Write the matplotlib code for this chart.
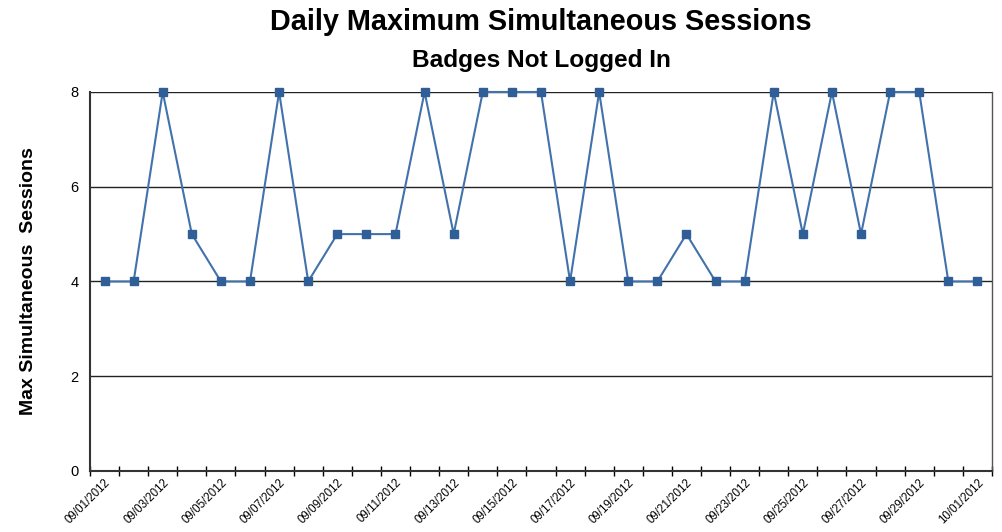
import numpy as np
import matplotlib
matplotlib.use("Agg")
import matplotlib.pyplot as plt

plt.rcParams['font.family'] = ['Liberation Sans', 'DejaVu Sans']

days = ["09/%02d/2012" % d for d in range(1, 31)] + ["10/01/2012"]
sessions = [4, 4, 8, 5, 4, 4, 8, 4, 5, 5, 5, 8, 5, 8, 8, 8, 4, 8, 4, 4,
            5, 4, 4, 8, 5, 8, 5, 8, 8, 4, 4]
yticks = [0, 2, 4, 6, 8]

fig = plt.figure(figsize=(10.03, 5.32), dpi=100)
ax = fig.add_axes([0.0897, 0.1147, 0.8993, 0.7124])

x = np.arange(len(days))
ax.plot(x, sessions, color="#4272ab", lw=1.5, marker="s", markersize=5.5,
        markerfacecolor="#2f5f96", markeredgecolor="#2f5f96", zorder=4,
        clip_on=False)

ax.set_xlim(-0.5, len(days) - 0.5)
ax.set_ylim(0, 8)
ax.set_yticks(yticks)
ax.set_yticklabels([str(v) for v in yticks], fontsize=10.5)
for v in yticks[1:]:
    ax.axhline(v, color="#222222", lw=1.0, zorder=1)

# tick marks on category boundaries, labels on every other category
ax.set_xticks(np.arange(len(days) + 1) - 0.5)
ax.set_xticklabels([])
ax.set_xticks(x[::2], minor=True)
ax.set_xticklabels(days[::2], minor=True, rotation=45, ha="right",
                   va="top", fontsize=8.3, rotation_mode="anchor")
ax.tick_params(axis="x", which="major", direction="inout", length=7, width=1)
ax.tick_params(axis="x", which="minor", length=0, pad=4)
ax.tick_params(axis="y", length=0, pad=8)

ax.spines["top"].set_visible(False)
ax.spines["left"].set_color("#333333")
ax.spines["bottom"].set_color("#333333")
ax.spines["left"].set_linewidth(1.5)
ax.spines["bottom"].set_linewidth(1.5)
ax.spines["right"].set_color("#555555")
ax.spines["right"].set_linewidth(1.0)

ax.set_ylabel("Max Simultaneous  Sessions", fontsize=14, fontweight="bold",
              family=["Liberation Sans Narrow", "Liberation Sans"], labelpad=24)

# titles are centred over the plot area
cx = 0.0897 + 0.8993 / 2
fig.text(cx, 0.958, "Daily Maximum Simultaneous Sessions", ha="center",
         va="center", fontsize=20.8, fontweight="bold")
fig.text(cx, 0.887, "Badges Not Logged In", ha="center", va="center",
         fontsize=17.6, fontweight="bold")

fig.savefig("out.png", dpi=100)
